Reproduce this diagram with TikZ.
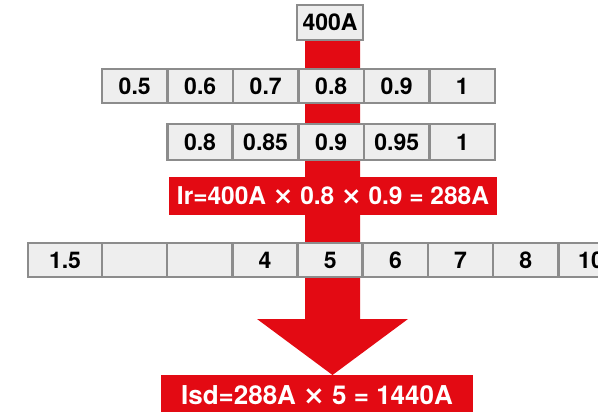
\documentclass[tikz,border=0pt]{standalone}
\usepackage{fontspec}
\setmainfont{TeX Gyre Heros}
\newfontfamily\signfont{DejaVu Sans}
\newcommand{\timessign}{{\signfont\bfseries ×}}
\definecolor{alarmred}{RGB}{227,10,19}
\definecolor{cellfill}{RGB}{238,238,238}
\definecolor{cellline}{RGB}{140,140,140}
\begin{document}
\begin{tikzpicture}[x=1pt,y=-1pt,
  cell/.style={draw=cellline, line width=2.5pt, fill=cellfill, inner sep=0pt,
    minimum height=34pt, minimum width=65.4pt,
    font=\fontsize{23}{23}\selectfont\bfseries, text=black},
  resultbox/.style={fill=alarmred, text=white, inner sep=0pt,
    font=\fontsize{24.5}{24.5}\selectfont\bfseries}]
\useasboundingbox (0,0) rectangle (598,412);

% red arrow running from the rating down to the result
\fill[alarmred] (305,40) -- (360,40) -- (360,319) -- (408,319)
  -- (332.5,375) -- (257,319) -- (305,319) -- cycle;

% rated current
\node[cell, minimum width=66pt, minimum height=35pt] (rating) at (330,22.5) {400A};

% first setting row
\foreach \v [count=\i from 0] in {0.5,0.6,0.7,0.8,0.9,1}
  \node[cell] (ra\i) at (134.7+65.5*\i,86) {\v};

% second setting row
\foreach \v [count=\i from 0] in {0.8,0.85,0.9,0.95,1}
  \node[cell, minimum height=36pt] (rb\i) at (200+65.6*\i,142) {\v};

% long-time result
\node[resultbox, minimum width=328pt, minimum height=38pt] (ir) at (333,196)
  {Ir=400A \timessign{} 0.8 \timessign{} 0.9 = 288A};

% short-time multiplier row
\node[cell, minimum width=74pt] (rc0) at (65,260) {1.5};
\foreach \v [count=\i from 1] in {{},{},4,5,6,7,8,10}
  \node[cell] (rc\i) at (134.6+65.2*\i-65.2,260) {\v};

% short-time result
\node[resultbox, minimum width=312pt, minimum height=41pt,
  font=\fontsize{26}{26}\selectfont\bfseries] (isd) at (317,395.5)
  {Isd=288A \timessign{} 5 = 1440A};
\end{tikzpicture}
\end{document}
